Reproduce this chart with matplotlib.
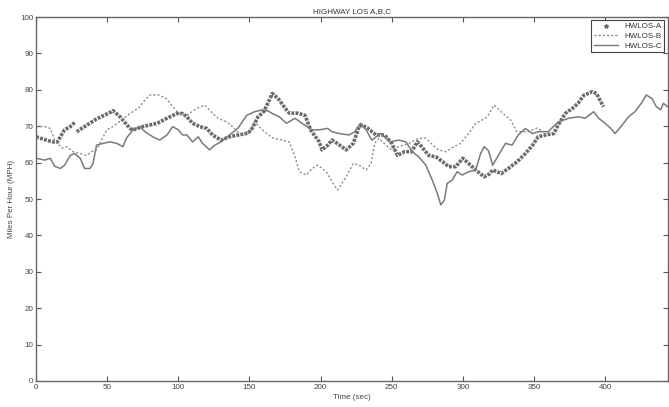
import matplotlib
matplotlib.use("Agg")
import matplotlib.pyplot as plt
from matplotlib.lines import Line2D

# HWLOS-A (drawn as a thick dotted trace), gap near t=27
a_t1 = [0, 7, 12, 15, 17, 20, 24, 27]
a_v1 = [67.1, 66.2, 65.7, 65.7, 67.1, 69.0, 69.9, 71.0]
a_t2 = [28.5, 34, 42, 52, 54, 59, 66, 68, 75, 85, 92, 99, 103, 106, 110, 115, 120, 124,
        130, 136, 142, 149, 152, 156, 160, 164, 166, 170, 175, 178, 184, 189, 193, 199,
        201, 205, 208, 212, 218, 223, 227, 229, 233, 239, 245, 250, 254, 259, 264, 268,
        271, 276, 281, 286, 290, 295, 300, 304, 309, 315, 319, 321, 327, 332, 338, 344,
        349, 353, 358, 364, 367, 372, 377, 381, 385, 391, 394, 397, 399]
a_v2 = [68.5, 69.9, 71.9, 73.8, 74.3, 72.6, 69.4, 69.0, 69.9, 70.8, 72.2, 73.5, 73.5, 72.6, 70.8, 69.9, 69.4, 67.6,
        66.2, 67.1, 67.6, 68.1, 69.5, 72.6, 74.0, 77.2, 79.0, 77.7, 75.0, 73.6, 73.6, 73.0, 69.0, 65.7,
        63.5, 64.8, 66.2, 65.2, 63.5, 65.3, 69.9, 70.3, 69.5, 67.6, 67.6, 65.3, 62.0, 63.0, 63.0, 65.7,
        64.4, 62.0, 61.6, 60.2, 58.9, 58.9, 61.2, 59.8, 58.0, 56.1, 57.0, 58.0, 57.0, 58.4, 60.2, 62.5,
        64.8, 67.1, 67.6, 68.0, 70.3, 73.5, 74.9, 76.3, 78.5, 79.5, 79.0, 76.7, 75.4]

# HWLOS-B (dotted)
b_t = [0, 6, 10, 13, 18, 21.5, 26, 31, 35.5, 39, 42.5, 46, 49.6, 54, 60, 66, 72, 76.5, 80, 86,
       91.6, 96, 100, 106, 113, 118.5, 123, 128, 134, 138, 144, 150, 153.6, 159, 166, 173, 178,
       182, 185, 190, 194, 198, 204, 208, 212, 218, 223, 227, 232, 235.5, 238, 241, 246, 250,
       255, 262, 269, 274, 279, 283, 288, 292, 298.5, 304, 309, 313.6, 317, 322, 328, 333.6,
       338, 346, 352, 357]
b_v = [69.9, 69.9, 69.4, 66.2, 64.0, 64.4, 63.0, 62.5, 62.0, 63.0, 63.5, 66.2, 69.0, 69.9, 71.7, 73.5, 75.0, 77.2, 78.6, 78.6,
       77.6, 75.4, 73.6, 73.0, 74.9, 75.8, 74.0, 72.2, 71.2, 69.9, 67.6, 68.1, 71.2, 69.0, 66.8, 66.2, 65.7,
       61.6, 57.5, 56.6, 58.4, 59.3, 57.5, 54.8, 52.5, 56.1, 59.8, 59.3, 58.0, 59.8, 65.3, 66.7, 64.8, 63.5,
       64.4, 65.3, 66.7, 66.7, 64.8, 63.5, 63.0, 64.0, 65.3, 68.0, 70.8, 71.7, 72.5, 75.8, 73.6, 71.7,
       68.5, 68.5, 69.5, 68.5]

# HWLOS-C (solid)
c_t = [0, 6, 10, 13, 17, 20, 24, 27, 31, 34, 38, 40, 42.5, 47, 52, 56.6, 61, 63.6, 68, 73, 76.5,
       82, 87, 92, 96, 100, 103, 106, 110, 114, 117, 122, 125.6, 130, 136, 142, 148, 153.6, 159,
       163, 166, 171, 176, 182, 187, 194, 199, 205, 208, 213, 220, 224, 228, 232, 236, 242, 249,
       255, 260, 264.5, 269, 274, 278.5, 282, 284.5, 287, 289, 292.5, 296, 299.6, 304, 309, 312.5,
       315, 318, 321, 325, 330, 334.6, 339, 344, 349, 353, 360, 367, 374.5, 381, 386, 392, 395.5,
       400, 404, 407, 412, 416.5, 421, 426, 429, 433, 436, 439, 441, 444]
c_v = [61.2, 60.7, 61.2, 59.0, 58.4, 59.3, 62.0, 62.5, 61.2, 58.4, 58.4, 59.8, 64.8, 65.3, 65.7, 65.3, 64.4, 66.8, 69.0, 69.9, 68.5,
       67.1, 66.2, 67.6, 69.9, 69.0, 67.6, 67.6, 65.7, 67.1, 65.3, 63.5, 64.8, 65.7, 67.6, 69.5, 73.0, 74.0, 74.5,
       74.2, 73.5, 72.6, 70.8, 72.2, 70.8, 69.0, 69.0, 69.4, 68.5, 68.0, 67.6, 68.5, 70.8, 69.0, 66.2, 68.0, 65.7,
       66.2, 65.7, 63.0, 61.6, 59.3, 55.2, 51.6, 48.4, 49.7, 54.3, 55.2, 57.5, 56.6, 57.5, 58.0, 62.5,
       64.4, 63.3, 59.3, 62.0, 65.3, 64.8, 67.6, 69.4, 68.0, 68.5, 68.5, 71.2, 72.2, 72.6, 72.2, 74.0, 72.2,
       70.8, 69.4, 68.0, 70.3, 72.6, 74.0, 76.6, 78.6, 77.6, 75.4, 74.5, 76.3, 75.4]

x_ticks = [0, 50, 100, 150, 200, 250, 300, 350, 400]
y_ticks = [0, 10, 20, 30, 40, 50, 60, 70, 80, 90, 100]

plt.rcParams['font.family'] = ['Liberation Sans', 'DejaVu Sans']

fig = plt.figure(figsize=(6.69, 4.07), dpi=100)
ax = fig.add_axes([0.054, 0.064, 0.944, 0.894])

col_a = '#6a6a6a'
col_b = '#8c8c8c'
col_c = '#7a7a7a'

ax.plot(a_t1, a_v1, color=col_a, lw=2.6, ls=(0, (0.8, 0.35)))
ax.plot(a_t2, a_v2, color=col_a, lw=2.6, ls=(0, (0.8, 0.35)))
ax.plot(b_t, b_v, color=col_b, lw=1.0, ls=(0, (1.5, 1.5)))
ax.plot(c_t, c_v, color=col_c, lw=1.1)

ax.set_xlim(0, 444)
ax.set_ylim(0, 100)
ax.set_xticks(x_ticks)
ax.set_yticks(y_ticks)
ax.tick_params(direction='in', top=True, right=True, length=3.5, width=0.8,
               labelsize=5.8, colors='#555555', labelcolor='#444444', pad=2)
for s in ax.spines.values():
    s.set_color('#666666')
    s.set_linewidth(1.0)

ax.set_title('HIGHWAY LOS A,B,C', fontsize=5.8, color='#333333', pad=3)
ax.set_xlabel('Time (sec)', fontsize=5.8, color='#444444', labelpad=2)
ax.set_ylabel('Miles Per Hour (MPH)', fontsize=5.8, color='#444444', labelpad=4)

handles = [Line2D([], [], color=col_a, marker='*', ms=3, ls='none'),
           Line2D([], [], color=col_b, lw=1.0, ls=(0, (1.5, 1.5))),
           Line2D([], [], color=col_c, lw=1.0)]
leg = ax.legend(handles, ['HWLOS-A', 'HWLOS-B', 'HWLOS-C'], loc='upper right',
                fontsize=5.8, fancybox=False, framealpha=1, edgecolor='#444444',
                borderaxespad=0.4, handlelength=3, labelspacing=0.25, borderpad=0.3)
leg.get_frame().set_linewidth(0.8)
for t in leg.get_texts():
    t.set_color('#333333')

fig.savefig('out.png', dpi=100)
